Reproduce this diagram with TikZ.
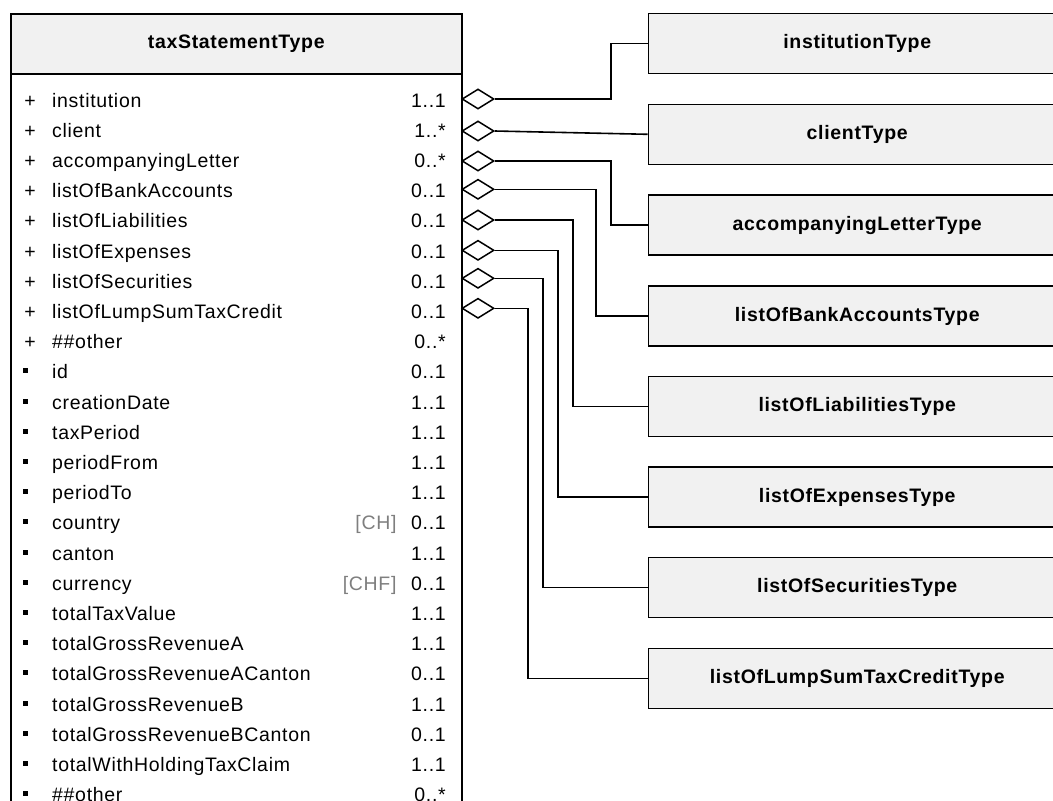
\documentclass[tikz,border=0pt]{standalone}
\usepackage{fontspec}
\setmainfont{Liberation Sans}[LetterSpace=3.5]
\usetikzlibrary{shapes.geometric}
\definecolor{boxfill}{HTML}{F1F1F1}
\definecolor{defgray}{HTML}{7F7F7F}
\tikzset{
  rowtext/.style={inner sep=0pt, font=\fontsize{19.5}{23}\selectfont},
  deftext/.style={rowtext, text=defgray, anchor=base east},
  tbox/.style={draw, fill=boxfill, line width=1.6pt, minimum width=417.5pt, minimum height=60pt, inner sep=0pt, font=\fontsize{19.5}{23}\selectfont\bfseries},
  agg/.style={diamond, draw, fill=white, line width=1.5pt, minimum width=32pt, minimum height=20pt, inner sep=0pt},
  conn/.style={line width=1.6pt},
  bullet/.style={fill=black, minimum size=5pt, inner sep=0pt}
}
\begin{document}
\begin{tikzpicture}[x=1pt,y=-1pt]
\clip (0,0) rectangle (1053,801);
\fill[white] (0,0) rectangle (1053,801);
% main class box
\node[draw, fill=white, line width=1.5pt, minimum width=451pt, minimum height=770pt, anchor=north west, inner sep=0pt] (body) at (10,73) {};
\node[draw, fill=boxfill, line width=1.5pt, minimum width=451pt, minimum height=60pt, anchor=north west, inner sep=0pt, font=\fontsize{19.5}{23}\selectfont\bfseries] (hdr) at (10,13) {taxStatementType};
% element rows
\foreach \i/\n/\m in {0/institution/1..1, 1/client/1..*, 2/accompanyingLetter/0..*, 3/listOfBankAccounts/0..1, 4/listOfLiabilities/0..1, 5/listOfExpenses/0..1, 6/listOfSecurities/0..1, 7/listOfLumpSumTaxCredit/0..1, 8/\#\#other/0..*}{
  \pgfmathsetmacro\yy{107+30.2*\i}
  \node[rowtext, anchor=base] (p\i) at (30,\yy) {+};
  \node[rowtext, anchor=base west] (n\i) at (52,\yy) {\n};
  \node[rowtext, anchor=base east] (m\i) at (446,\yy) {\m};
}
% attribute rows
\foreach \i/\n/\m in {9/id/0..1, 10/creationDate/1..1, 11/taxPeriod/1..1, 12/periodFrom/1..1, 13/periodTo/1..1, 14/country/0..1, 15/canton/1..1, 16/currency/0..1, 17/totalTaxValue/1..1, 18/totalGrossRevenueA/1..1, 19/totalGrossRevenueACanton/0..1, 20/totalGrossRevenueB/1..1, 21/totalGrossRevenueBCanton/0..1, 22/totalWithHoldingTaxClaim/1..1, 23/\#\#other/0..*}{
  \pgfmathsetmacro\yy{107+30.2*\i}
  \node[bullet] (b\i) at (25,\yy-7.9) {};
  \node[rowtext, anchor=base west] (n\i) at (52,\yy) {\n};
  \node[rowtext, anchor=base east] (m\i) at (446,\yy) {\m};
}
\node[deftext] (dCH) at (396.7,{107+30.2*14}) {[CH]};
\node[deftext] (dCHF) at (396.7,{107+30.2*16}) {[CHF]};
% target type boxes
\node[tbox] (t1) at (857.25,43.3) {institutionType};
\node[tbox] (t2) at (857.25,134.3) {clientType};
\node[tbox] (t3) at (857.25,225) {accompanyingLetterType};
\node[tbox] (t4) at (857.25,316) {listOfBankAccountsType};
\node[tbox] (t5) at (857.25,406.5) {listOfLiabilitiesType};
\node[tbox] (t6) at (857.25,497) {listOfExpensesType};
\node[tbox] (t7) at (857.25,587.5) {listOfSecuritiesType};
\node[tbox] (t8) at (857.25,678.5) {listOfLumpSumTaxCreditType};
% aggregation diamonds
\node[agg] (d1) at (478,99) {};
\node[agg] (d2) at (478,131) {};
\node[agg] (d3) at (478,161) {};
\node[agg] (d4) at (478,189.3) {};
\node[agg] (d5) at (478,220) {};
\node[agg] (d6) at (478,250.3) {};
\node[agg] (d7) at (478,278.3) {};
\node[agg] (d8) at (478,308.3) {};
% connectors
\draw[conn] (d1.east) -| ([xshift=-36.8pt]t1.west) -- (t1.west);
\draw[conn] (d2.east) -- (t2.west);
\draw[conn] (d3.east) -| ([xshift=-36.8pt]t3.west) -- (t3.west);
\draw[conn] (d4.east) -| ([xshift=-51.8pt]t4.west) -- (t4.west);
\draw[conn] (d5.east) -| ([xshift=-74.5pt]t5.west) -- (t5.west);
\draw[conn] (d6.east) -| ([xshift=-89.5pt]t6.west) -- (t6.west);
\draw[conn] (d7.east) -| ([xshift=-104.5pt]t7.west) -- (t7.west);
\draw[conn] (d8.east) -| ([xshift=-119.5pt]t8.west) -- (t8.west);
\end{tikzpicture}
\end{document}
